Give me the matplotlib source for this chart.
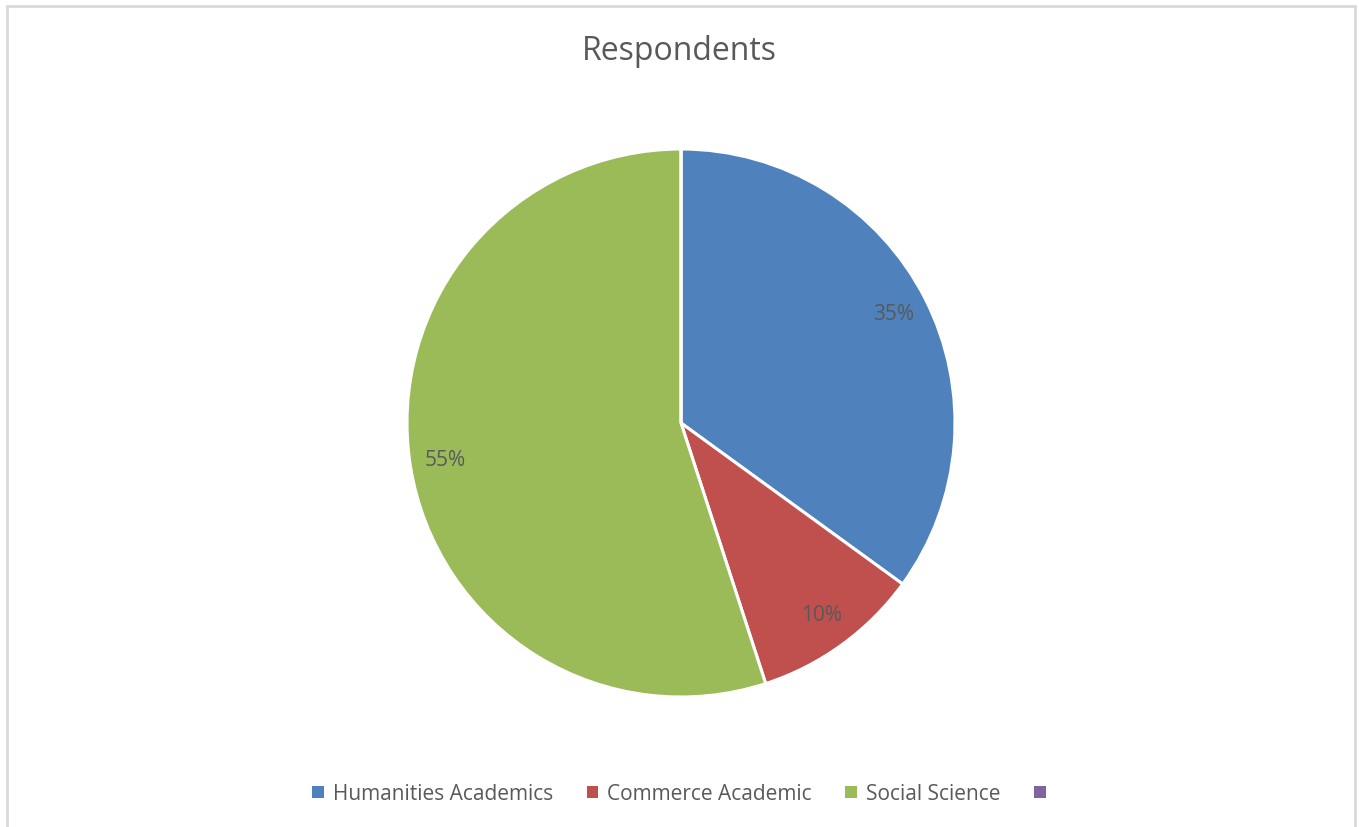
import numpy as np
import matplotlib.pyplot as plt
from matplotlib.patches import Rectangle, Patch

plt.rcParams['font.family'] = ['Open Sans', 'DejaVu Sans']

categories = ['Humanities Academics', 'Commerce Academic', 'Social Science', '']
values = [35, 10, 55, 0]
colors = ['#4F81BD', '#C0504D', '#9BBB59', '#8064A2']
text_color = '#595959'

W, H = 1359, 827
fig = plt.figure(figsize=(W / 100, H / 100), dpi=100)

# frame around the chart area
fig.patches.append(Rectangle((6.5 / W, -0.05), (1354.5 - 6.5) / W, 1.05 - 6.5 / H,
                             transform=fig.transFigure, fill=False,
                             edgecolor='#d9d9d9', linewidth=2))

cx, cy, r = 681, 423, 274
ax = fig.add_axes([(cx - r) / W, (H - cy - r) / H, 2 * r / W, 2 * r / H])


def pct(p):
    return '' if p < 0.5 else '%d%%' % round(p)


wedges, _, autotexts = ax.pie(values, colors=colors, startangle=90, counterclock=False,
                              radius=1, autopct=pct, pctdistance=0.87,
                              wedgeprops=dict(edgecolor='white', linewidth=2.2),
                              textprops=dict(color=text_color, fontsize=15))
ax.set_xlim(-1, 1)
ax.set_ylim(-1, 1)
ax.set_aspect('equal')
ax.axis('off')

fig.text(0.5, 1 - 51 / H, 'Respondents', ha='center', va='center',
         fontsize=23, color=text_color)

handles = [Patch(facecolor=c, edgecolor='none') for c in colors]
fig.legend(handles, categories, loc='center', bbox_to_anchor=(0.503, 1 - 794 / H),
           ncol=4, frameon=False, handlelength=0.55, handleheight=0.55,
           handletextpad=0.45, columnspacing=1.6, fontsize=15, labelcolor=text_color)

fig.savefig('out.png', dpi=100)
